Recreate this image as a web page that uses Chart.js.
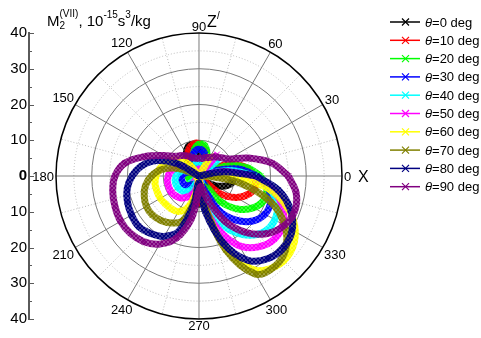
<!DOCTYPE html>
<html>
<head>
<meta charset="utf-8">
<script src="https://cdn.jsdelivr.net/npm/chart.js@4.4.1/dist/chart.umd.min.js"></script>
<style>
  html, body { margin: 0; padding: 0; background: #fff; }
  #wrap { width: 481px; height: 338px; position: relative; }
</style>
</head>
<body>
<div id="wrap"><canvas id="polar-chart"></canvas></div>
<script>
const FONT = '"Liberation Sans", Arial, Helvetica, sans-serif';

// polar angle of every sample, degrees
const angles = [0, 10, 20, 30, 40, 50, 60, 70, 80, 90, 100, 110, 120, 130, 140, 150, 160, 170,
    180, 190, 200, 210, 220, 230, 240, 250, 260, 270, 280, 290, 300, 310, 320, 330, 340, 350];

const thetas = [0, 10, 20, 30, 40, 50, 60, 70, 80, 90];
const colors = ['#000000', '#ff0000', '#00ff00', '#0000ff', '#00ffff',
    '#ff00ff', '#ffff00', '#808000', '#000080', '#800080'];

// M2 (10^-15 s^3/kg) per angle for each theta
const m2Theta0 = [9, 7.5, 5, 2, 0, 0, 0, 0, 4.5, 7, 8.8, 8.8, 7, 4.5, 0, 0, 0, 0,
    0, 0, 0, 0, 0, 0, 0, 5, 7.5, 7.8, 5, 0, 0, 0, 2.5, 5.5, 8, 9.5];
const m2Theta10 = [15.5, 13.3, 9.5, 4, 0, 0, 0, 6.1, 8.1, 9.1, 9.1, 8.1, 6.1, 0, 0, 0, 0, 1.2,
    1.8, 2, 1.8, 1.2, 0, 0, 0, 4, 6.8, 7.5, 6.5, 3, 0, 0, 7.6, 12, 14.8, 16];
const m2Theta20 = [17.2, 13.6, 8, 0, 0, 0, 3.5, 6.6, 8.7, 8.9, 7.5, 4.6, 0, 0, 0, 0.5, 1.8, 2.6,
    2.9, 3, 2.9, 2.6, 1.8, 0.5, 0, 2.5, 4.5, 5, 4.5, 2.5, 2.5, 9.3, 14.4, 17.7, 19.4, 19.2];
const m2Theta30 = [16.1, 11.2, 3.9, 0, 0, 0, 2.5, 5.5, 7, 7.5, 7, 5.5, 2.5, 0, 0, 1.5, 3.2, 4.2,
    4.8, 5, 5, 4.8, 4.2, 3.2, 1.5, 0, 2.5, 3, 2.5, 3.9, 11.2, 16.1, 19.6, 21.3, 21.3, 19.6];
const m2Theta40 = [15.3, 8.8, 0, 0, 7, 0, 0, 2.5, 4, 4.5, 4, 2.5, 0, 0, 0, 2, 4.5, 5.7,
    6.4, 6.8, 6.8, 6.7, 6.4, 5.7, 4.5, 2, 0, 0, 2.9, 11.8, 17.5, 21.6, 24.1, 24.5, 23.3, 20.1];
const m2Theta50 = [14.7, 7.2, 0, 0, 0, 8, 0, 0, 1.5, 2, 1.5, 0, 0, 0, 3.1, 5.4, 6.8, 8,
    8.6, 9, 9, 9, 8.6, 8, 6.8, 5.4, 3.1, 0, 8, 16, 22.5, 25.9, 27.5, 27.1, 24.8, 20.7];
const m2Theta60 = [9, 0, 0, 0, 0, 0, 6.5, 0, 0, 0, 0, 0, 0, 4, 7, 8.8, 10.2, 11.2,
    12, 12.5, 12.5, 12.5, 12.2, 12, 11.5, 9.5, 5, 1, 8, 21, 30.2, 33.1, 33.3, 31.1, 26.5, 19.4];
const m2Theta70 = [3, 0, 0, 0, 0, 0, 0, 0, 0, 0, 0, 0, 0, 0, 0, 0, 6.1, 10.5,
    13.3, 15.2, 16.3, 17, 17, 16.3, 15.2, 13.3, 7, 2, 8, 22, 31.7, 33, 31.7, 27.7, 21.5, 12];
const m2Theta80 = [16, 7, 0, 0, 0, 0, 0, 0, 0, 0, 0, 0, 0, 0, 0, 6.9, 12.7, 16.3,
    18.7, 20.4, 21.3, 21.8, 22, 21, 19.5, 16.5, 8, 2, 10, 20, 27.2, 30.1, 31, 30.1, 27.2, 22.5];
const m2Theta90 = [25, 20.7, 14.7, 9.5, 8, 7, 6, 5.5, 5, 5, 5, 5.5, 6.5, 7.5, 8.5, 11.5, 16, 21,
    23.5, 24.5, 25, 25.3, 25, 24, 22, 18.5, 12, 4, 3, 7, 14.7, 20.7, 25, 27.6, 28.5, 27.6];

const series = [m2Theta0, m2Theta10, m2Theta20, m2Theta30, m2Theta40,
    m2Theta50, m2Theta60, m2Theta70, m2Theta80, m2Theta90];

const radialTicks = [10, 20, 30, 40];
const angleTicks = [0, 30, 60, 90, 120, 150, 180, 210, 240, 270, 300, 330];

const ctx = document.getElementById('polar-chart').getContext('2d');

// polar -> cartesian, loop closed back onto its first sample
function toPoints(values) {
    const pts = values.map((r, i) => {
        const a = angles[i] * Math.PI / 180;
        return { x: r * Math.cos(a), y: r * Math.sin(a) };
    });
    pts.push(pts[0]);
    return pts;
}

// tiled little crosses, so the thick curves read as rows of x markers
function crossPattern(color) {
    const tile = document.createElement('canvas');
    tile.width = tile.height = 4;
    const g = tile.getContext('2d');
    g.strokeStyle = color;
    g.lineWidth = 1.9;
    g.beginPath();
    g.moveTo(0, 0); g.lineTo(4, 4);
    g.moveTo(4, 0); g.lineTo(0, 4);
    g.stroke();
    return ctx.createPattern(tile, 'repeat');
}

const datasets = series.map((values, i) => ({
    label: 'θ=' + thetas[i] + ' deg',
    data: toPoints(values),
    showLine: true,
    borderColor: crossPattern(colors[i]),
    backgroundColor: colors[i],
    borderWidth: 7,
    tension: 0.35,
    pointStyle: 'crossRot',
    pointRadius: 3.5,
    pointBorderColor: colors[i],
    pointBorderWidth: 1,
    order: series.length - i
}));

const polarOverlay = {
    id: 'polarOverlay',
    beforeDatasetsDraw(chart) {
        const { ctx, scales: { x, y } } = chart;
        const cx = x.getPixelForValue(0), cy = y.getPixelForValue(0);
        const px = v => x.getPixelForValue(v) - cx;
        const R = px(40);
        ctx.save();
        ctx.lineWidth = 1;
        // dotted minor rings and spokes
        ctx.strokeStyle = '#b8b8b8';
        ctx.setLineDash([1, 2]);
        [5, 15, 25, 35].forEach(r => {
            ctx.beginPath();
            ctx.arc(cx, cy, px(r), 0, Math.PI * 2);
            ctx.stroke();
        });
        for (let a = 15; a < 360; a += 30) {
            const t = a * Math.PI / 180;
            ctx.beginPath();
            ctx.moveTo(cx, cy);
            ctx.lineTo(cx + R * Math.cos(t), cy - R * Math.sin(t));
            ctx.stroke();
        }
        ctx.setLineDash([]);
        ctx.strokeStyle = '#7a7a7a';
        radialTicks.slice(0, 3).forEach(r => {
            ctx.beginPath();
            ctx.arc(cx, cy, px(r), 0, Math.PI * 2);
            ctx.stroke();
        });
        angleTicks.forEach(a => {
            const t = a * Math.PI / 180;
            ctx.beginPath();
            ctx.moveTo(cx, cy);
            ctx.lineTo(cx + R * Math.cos(t), cy - R * Math.sin(t));
            ctx.stroke();
        });
        ctx.strokeStyle = '#000';
        ctx.lineWidth = 1.5;
        ctx.beginPath();
        ctx.arc(cx, cy, R, 0, Math.PI * 2);
        ctx.stroke();
        ctx.restore();
    },
    afterDraw(chart) {
        const { ctx, scales: { x, y } } = chart;
        const cx = x.getPixelForValue(0), cy = y.getPixelForValue(0);
        const R = x.getPixelForValue(40) - cx;
        ctx.save();
        ctx.fillStyle = '#000';

        // angle labels just outside the rim
        ctx.font = '13px ' + FONT;
        ctx.textAlign = 'center';
        ctx.textBaseline = 'middle';
        angleTicks.forEach(a => {
            const t = a * Math.PI / 180;
            const c = Math.cos(t), s = Math.sin(t);
            const txt = String(a);
            const w = ctx.measureText(txt).width, h = 9.5;
            const d = R + 2 + Math.abs(c) * w / 2 + Math.abs(s) * h / 2;
            ctx.fillText(txt, cx + d * c, cy - d * s + 1);
        });

        // axis names
        ctx.font = '16px ' + FONT;
        ctx.textAlign = 'left';
        ctx.textBaseline = 'alphabetic';
        ctx.fillText('Z', 207, 27);
        ctx.font = '10px ' + FONT;
        ctx.fillText('/', 217, 19);
        ctx.font = '16px ' + FONT;
        ctx.fillText('X', 358, 182);

        // y-axis title: M2^(VII), 10^-15 s^3/kg
        let tx = 47;
        const base = 26;
        const put = (text, size, dy) => {
            ctx.font = size + 'px ' + FONT;
            ctx.fillText(text, tx, base + dy);
            tx += ctx.measureText(text).width;
        };
        put('M', 15, 0);
        ctx.font = '10px ' + FONT;
        ctx.fillText('2', tx, base + 3);
        put('(VII)', 10, -9);
        put(', 10', 15, 0);
        put('-15', 10, -8);
        put('s', 15, 0);
        put('3', 10, -8);
        put('/kg', 15, 0);

        // inward ticks on the left axis
        const ax = y.right;
        ctx.strokeStyle = '#5a5a5a';
        ctx.lineWidth = 1;
        for (let v = -40; v <= 40; v += 5) {
            const py = Math.round(y.getPixelForValue(v)) + 0.5;
            const len = v % 10 === 0 ? 5 : 3;
            ctx.beginPath();
            ctx.moveTo(ax, py);
            ctx.lineTo(ax + len, py);
            ctx.stroke();
        }

        // legend
        const lx = 390, ly = 22, step = 18.3;
        datasets.forEach((ds, i) => {
            const yy = ly + i * step;
            ctx.strokeStyle = colors[i];
            ctx.lineWidth = 1.5;
            ctx.beginPath();
            ctx.moveTo(lx, yy);
            ctx.lineTo(lx + 30, yy);
            ctx.stroke();
            ctx.lineWidth = 1.2;
            ctx.beginPath();
            ctx.moveTo(lx + 12, yy - 3.5);
            ctx.lineTo(lx + 19, yy + 3.5);
            ctx.moveTo(lx + 19, yy - 3.5);
            ctx.lineTo(lx + 12, yy + 3.5);
            ctx.stroke();
            ctx.fillStyle = '#000';
            ctx.textBaseline = 'middle';
            ctx.font = 'italic 13px ' + FONT;
            ctx.fillText('θ', 425, yy + 1);
            const tw = ctx.measureText('θ').width;
            ctx.font = '13px ' + FONT;
            ctx.fillText('=' + thetas[i] + ' deg', 425 + tw, yy + 1);
        });
        ctx.restore();
    }
};

const polarChart = new Chart(ctx, {
    type: 'scatter',
    data: { datasets: datasets },
    options: {
        responsive: true,
        maintainAspectRatio: false,
        animation: false,
        layout: { padding: { top: 33, bottom: 19, left: 0, right: 139 } },
        plugins: { legend: { display: false }, tooltip: { enabled: false } },
        scales: {
            x: {
                type: 'linear',
                min: -47.55,
                max: 40,
                display: false
            },
            y: {
                type: 'linear',
                position: 'left',
                min: -40,
                max: 40,
                afterFit: scale => { scale.width = 29; },
                grid: { display: false, drawTicks: false },
                border: { display: true, color: '#5a5a5a', width: 2 },
                ticks: {
                    stepSize: 10,
                    padding: 2,
                    color: '#000',
                    font: c => ({ family: FONT, size: 15, weight: c.tick && c.tick.value === 0 ? 'bold' : 'normal' }),
                    callback: v => String(Math.abs(v))
                }
            }
        }
    },
    plugins: [polarOverlay]
});
</script>
</body>
</html>
